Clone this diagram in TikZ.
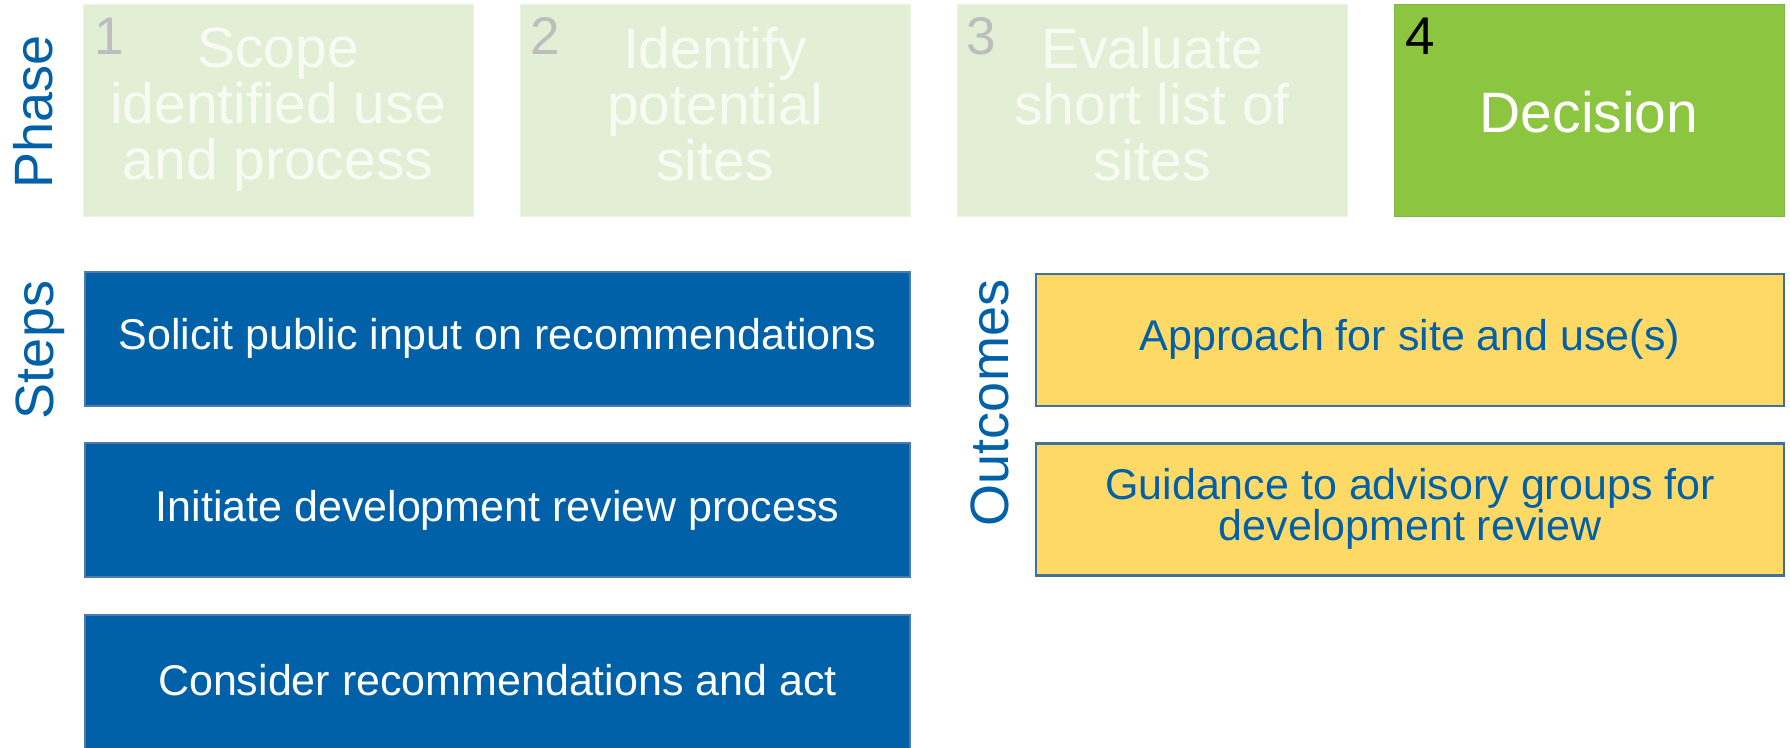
\documentclass[tikz,border=0pt]{standalone}
\usepackage{fontspec}
\setmainfont{Liberation Sans}

\definecolor{phasefill}{HTML}{E2EFD4}
\definecolor{phaseedge}{HTML}{EAF3E0}
\definecolor{phasetext}{HTML}{F8FBF3}
\definecolor{phasenum}{HTML}{BDBDBD}
\definecolor{activefill}{HTML}{8CC540}
\definecolor{activeedge}{HTML}{7DB843}
\definecolor{stepfill}{HTML}{0061A8}
\definecolor{stepedge}{HTML}{5079AC}
\definecolor{outfill}{HTML}{FFD966}
\definecolor{outedge}{HTML}{41709F}
\definecolor{labelblue}{HTML}{0061A8}

\tikzset{
  phasebox/.style={draw=phaseedge, fill=phasefill, line width=1pt,
    minimum width=390pt, minimum height=212pt, inner sep=0pt, outer sep=0pt},
  activebox/.style={phasebox, draw=activeedge, fill=activefill},
  phasetitle/.style={anchor=north, align=center, inner sep=0pt, text=phasetext,
    font=\fontsize{57}{56}\selectfont},
  phasenumber/.style={anchor=base west, inner sep=0pt, text=phasenum,
    font=\fontsize{53}{53}\selectfont},
  stepbox/.style={draw=stepedge, fill=stepfill, line width=2pt,
    minimum width=825pt, minimum height=134pt, inner sep=0pt, outer sep=0pt},
  steptext/.style={anchor=base, inner sep=0pt, text=white,
    font=\fontsize{43}{40}\selectfont},
  outbox/.style={draw=outedge, fill=outfill, line width=2.5pt,
    minimum width=748pt, minimum height=132pt, inner sep=0pt, outer sep=0pt},
  outtext/.style={inner sep=0pt, text=labelblue, align=center,
    font=\fontsize{43}{40}\selectfont},
  rowlabel/.style={rotate=90, anchor=base, inner sep=0pt, text=labelblue,
    font=\fontsize{54}{54}\selectfont},
}

\begin{document}
\begin{tikzpicture}[x=1pt, y=1pt]
  \useasboundingbox (0,0) rectangle (1790,-747);

  % Phase row
  \node[phasebox]  (ph1) at (278,-110) {};
  \node[phasebox]  (ph2) at (715,-110) {};
  \node[phasebox]  (ph3) at (1152,-110) {};
  \node[activebox] (ph4) at (1589,-110) {};

  \node[phasenumber] (n1) at (94,-54)   {1};
  \node[phasenumber] (n2) at (530,-54)  {2};
  \node[phasenumber] (n3) at (966,-54)  {3};
  \node[phasenumber, text=black] (n4) at (1405,-54) {4};

  \node[phasetitle] (t1) at (278,-27) {Scope\\identified use\\and process};
  \node[phasetitle] (t2) at (715,-27) {Identify\\potential\\sites};
  \node[phasetitle] (t3) at (1152,-27) {Evaluate\\short list of\\sites};
  \node[anchor=base, inner sep=0pt, text=white,
        font=\fontsize{57}{56}\selectfont] (t4) at (1589,-132) {Decision};

  % Row labels
  \node[rowlabel] (lphase) at (52,-112)   {Phase};
  \node[rowlabel] (lsteps) at (53,-350)   {Steps};
  \node[rowlabel] (lout)   at (1008,-403) {Outcomes};

  % Steps column
  \node[stepbox] (s1) at (497.5,-338.5) {};
  \node[stepbox] (s2) at (497.5,-509.5) {};
  \node[stepbox] (s3) at (497.5,-682)   {};
  \node[steptext] (st1) at (497.5,-349) {Solicit public input on recommendations};
  \node[steptext] (st2) at (497.5,-521) {Initiate development review process};
  \node[steptext] (st3) at (497.5,-695) {Consider recommendations and act};

  % Outcomes column
  \node[outbox] (o1) at (1410,-340)   {};
  \node[outbox] (o2) at (1410,-509.5) {};
  \node[outtext, anchor=base] (ot1) at (1410,-350) {Approach for site and use(s)};
  \node[outtext, anchor=north] (ot2) at (1410,-468)
        {Guidance to advisory groups for\\development review};
\end{tikzpicture}
\end{document}
